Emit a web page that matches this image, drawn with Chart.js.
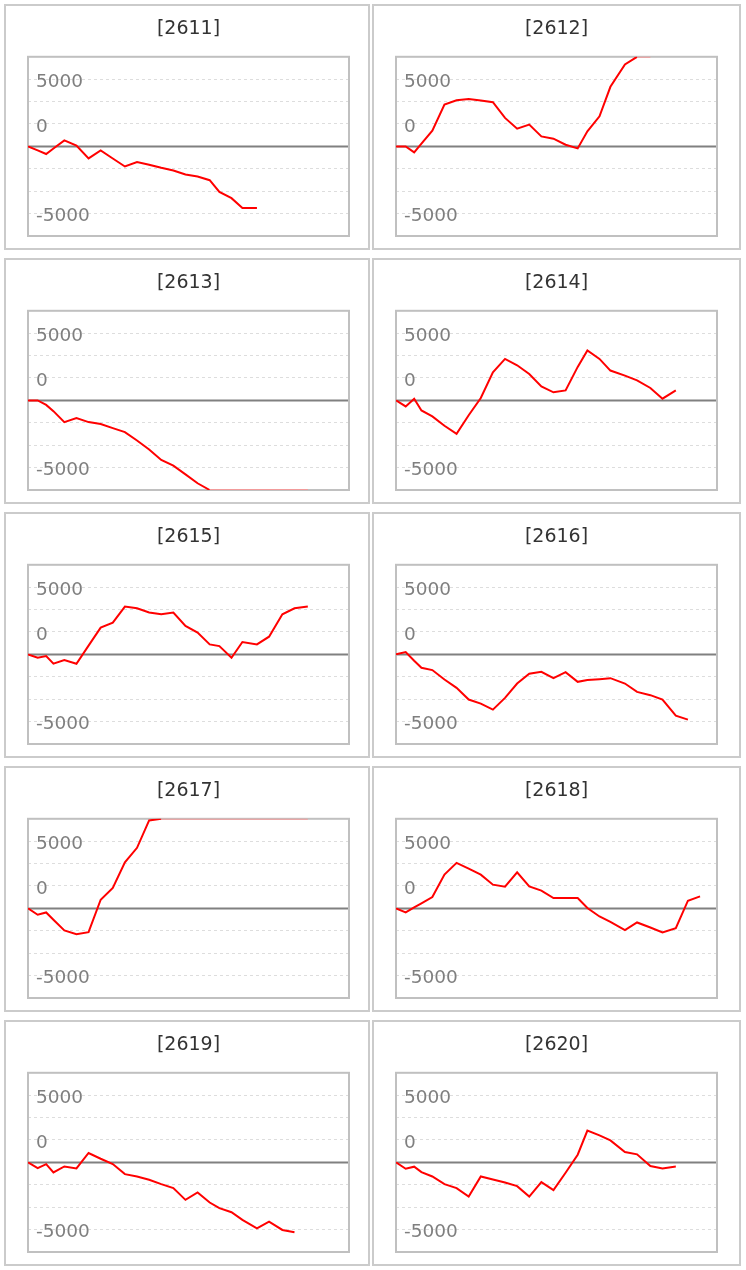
<!DOCTYPE html>
<html>
<head>
<meta charset="utf-8">
<script src="https://cdn.jsdelivr.net/npm/chart.js@4/dist/chart.umd.min.js"></script>
<style>
body { margin: 0; background: #fff; }
.panel { position: absolute; box-sizing: border-box; border: 2px solid #cbcbcb; background: #fff; }
.panel canvas { display: block; }
</style>
</head>
<body>
<div id="wrap"></div>
<script>
// 銘柄コード
const codes = ['2611', '2612', '2613', '2614', '2615', '2616', '2617', '2618', '2619', '2620'];

// 横軸 (日数)
const days = [0, 0.8, 1.5, 2.1, 3, 4, 5, 6, 7, 8, 9, 10, 11, 12, 13, 14, 15, 15.8, 16.8, 17.7, 18.9, 19.9, 21, 22, 23.1, 24.1, 25.1];

// 損益の推移
const s2611 = [0, -450, -850, -230, 670, 80, -1340, -450, -1350, -2240, -1750, -2050, -2390, -2690, -3140, -3360, -3770, -5080, -5780, -6870, -6870];
const s2612 = [0, 0, -670, 310, 1760, 4670, 5150, 5300, 5110, 4930, 3180, 1980, 2430, 1120, 860, 190, -220, 1680, 3360, 6650, 9150, 10000, 10000];
const s2613 = [0, 0, -500, -1200, -2420, -1970, -2420, -2640, -3090, -3540, -4480, -5470, -6640, -7280, -8250, -9250, -10000, -10000, -10000, -10000, -10000, -10000, -10000, -10000, -10000];
const s2614 = [0, -670, 190, -1120, -1790, -2830, -3730, -1660, 270, 3140, 4630, 3920, 2950, 1570, 900, 1120, 3740, 5570, 4630, 3330, 2770, 2240, 1390, 190, 1120];
const s2615 = [0, -370, -190, -1040, -630, -1040, 980, 2990, 3550, 5340, 5150, 4670, 4480, 4670, 3170, 2430, 1120, 930, -370, 1380, 1120, 1980, 4480, 5150, 5340];
const s2616 = [0, 260, -710, -1490, -1750, -2800, -3730, -5040, -5490, -6160, -4850, -3250, -2160, -1940, -2650, -1980, -3060, -2870, -2760, -2650, -3250, -4180, -4550, -5040, -6830, -7280];
const s2617 = [0, -710, -450, -1270, -2460, -2870, -2650, 970, 2280, 5150, 6760, 9820, 10000, 10000, 10000, 10000, 10000, 10000, 10000, 10000, 10000, 10000, 10000, 10000, 10000];
const s2618 = [0, -450, 110, 560, 1270, 3770, 5080, 4440, 3770, 2650, 2430, 4030, 2460, 1980, 1160, 1160, 1160, 40, -900, -1500, -2430, -1570, -2130, -2690, -2200, 860, 1340];
const s2619 = [0, -630, -190, -1120, -450, -670, 1050, 410, -190, -1310, -1570, -1940, -2430, -2870, -4180, -3360, -4480, -5110, -5560, -6420, -7350, -6610, -7540, -7800];
const s2620 = [0, -710, -480, -1080, -1570, -2430, -2870, -3810, -1570, -1900, -2240, -2650, -3810, -2200, -3100, -1160, 860, 3550, 3020, 2460, 1160, 900, -410, -670, -450];
const series = [s2611, s2612, s2613, s2614, s2615, s2616, s2617, s2618, s2619, s2620];

// 縦軸の目盛り
const yMin = -10000;
const yMax = 10000;
const gridValues = [-10000, -7500, -5000, -2500, 0, 2500, 5000, 7500, 10000];
const tickPositions = [7500, 2500, -7500];
const tickLabels = ['5000', '0', '-5000'];

// 枠とゼロ線を描く
const framePlugin = {
    id: 'frame',
    beforeDatasetsDraw(chart) {
        const {ctx, chartArea: a, scales} = chart;
        const y0 = scales.y.getPixelForValue(0);
        ctx.save();
        ctx.strokeStyle = '#808080';
        ctx.lineWidth = 2;
        ctx.beginPath();
        ctx.moveTo(a.left, y0);
        ctx.lineTo(a.right, y0);
        ctx.stroke();
        ctx.strokeStyle = '#c0c0c0';
        ctx.strokeRect(a.left, a.top, a.right - a.left, a.bottom - a.top);
        ctx.restore();
    }
};

// 範囲外に張り付いた区間は薄く
function atEdge(c) {
    const a = c.p0.parsed.y, b = c.p1.parsed.y;
    return (a >= yMax && b >= yMax) || (a <= yMin && b <= yMin);
}

const wrap = document.getElementById('wrap');
const colLeft = [4, 372];
const colWidth = [366, 369];

codes.forEach((code, n) => {
    const col = n % 2, row = Math.floor(n / 2);
    const panel = document.createElement('div');
    panel.className = 'panel';
    panel.style.left = colLeft[col] + 'px';
    panel.style.top = (4 + row * 254) + 'px';
    panel.style.width = colWidth[col] + 'px';
    panel.style.height = '246px';
    const canvas = document.createElement('canvas');
    const w = colWidth[col] - 4;
    canvas.width = w;
    canvas.height = 242;
    panel.appendChild(canvas);
    wrap.appendChild(panel);

    const vals = series[n];
    new Chart(canvas, {
        type: 'line',
        data: {
            datasets: [{
                data: vals.map((v, i) => ({x: days[i], y: v})),
                borderColor: '#ff0000',
                borderWidth: 2,
                pointRadius: 0,
                tension: 0,
                segment: {
                    borderColor: c => atEdge(c) ? '#f29b9b' : undefined
                }
            }]
        },
        options: {
            responsive: false,
            animation: false,
            devicePixelRatio: 1,
            layout: {padding: {left: 6, right: w - 343, top: 0, bottom: 12}},
            plugins: {
                legend: {display: false},
                tooltip: {enabled: false},
                title: {
                    display: true,
                    fullSize: false, // グラフ枠の中央に
                    text: '[' + code + ']',
                    color: '#333',
                    font: {family: 'DejaVu Sans', size: 19, weight: 'normal'},
                    padding: {top: 12, bottom: 16}
                }
            },
            scales: {
                x: {type: 'linear', display: false, min: 0, max: 26.5},
                y: {
                    min: yMin,
                    max: yMax,
                    afterBuildTicks: scale => {
                        scale.ticks = gridValues.map(v => ({value: v}));
                    },
                    ticks: {
                        mirror: true,
                        padding: 8,
                        labelOffset: 3,
                        color: '#7f7f7f',
                        font: {family: 'DejaVu Sans', size: 18.5, lineHeight: '6px'},
                        callback: v => {
                            const k = tickPositions.indexOf(v);
                            return k < 0 ? '' : tickLabels[k];
                        }
                    },
                    grid: {
                        drawTicks: false,
                        lineWidth: 1,
                        color: c => (c.tick.value === 0 || c.tick.value === yMin || c.tick.value === yMax) ? 'rgba(0,0,0,0)' : '#dddddd'
                    },
                    border: {display: false, dash: [3, 3]}
                }
            }
        },
        plugins: [framePlugin]
    });
});
</script>
</body>
</html>
